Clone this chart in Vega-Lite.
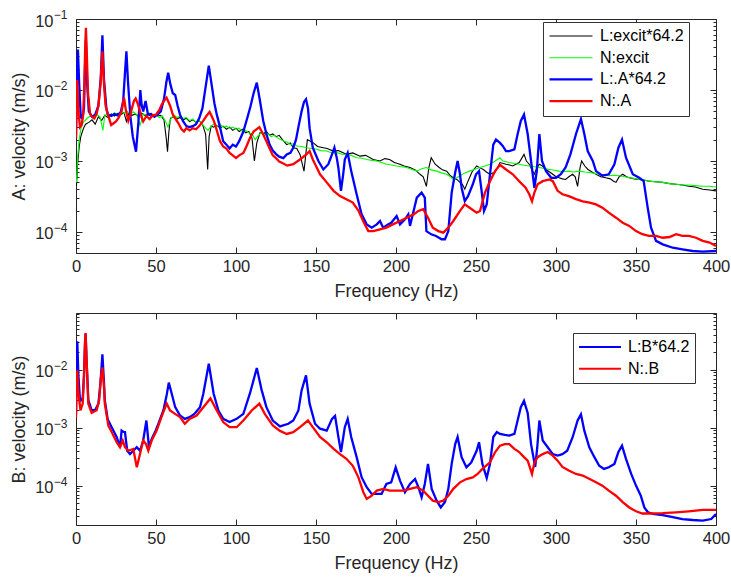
{
  "$schema": "https://vega.github.io/schema/vega-lite/v6.json",
  "background": "white",
  "padding": {"left": 10, "top": 8, "right": 5, "bottom": 5},
  "config": {
    "font": "Liberation Sans",
    "view": {"stroke": "#262626", "strokeWidth": 1},
    "axis": {"domain": false, "grid": false, "tickColor": "#262626", "tickWidth": 1, "labelColor": "#262626", "titleColor": "#262626", "labelFont": "Liberation Sans", "titleFont": "Liberation Sans", "labelFontSize": 16.5, "titleFontSize": 18, "titleFontWeight": "normal", "labelOverlap": false, "labelFlush": false},
    "legend": {"orient": "none", "title": null, "symbolType": "stroke", "strokeColor": "#333333", "fillColor": "white", "padding": 5, "labelFont": "Liberation Sans", "labelFontSize": 16, "labelColor": "#000000", "labelOffset": 6, "clipHeight": 18, "rowPadding": 3.7}
  },
  "datasets": {
    "A": [
      {"s":"L:excit*64.2","f":0.3,"v":0.00045},{"s":"L:excit*64.2","f":1,"v":0.0009},{"s":"L:excit*64.2","f":2,"v":0.0016},{"s":"L:excit*64.2","f":3,"v":0.0022},{"s":"L:excit*64.2","f":4,"v":0.0026},{"s":"L:excit*64.2","f":5,"v":0.003},{"s":"L:excit*64.2","f":6,"v":0.0033},{"s":"L:excit*64.2","f":8,"v":0.0035},{"s":"L:excit*64.2","f":10,"v":0.0038},{"s":"L:excit*64.2","f":12,"v":0.0033},{"s":"L:excit*64.2","f":14,"v":0.0042},{"s":"L:excit*64.2","f":16,"v":0.0037},{"s":"L:excit*64.2","f":18,"v":0.0044},{"s":"L:excit*64.2","f":20,"v":0.0041},{"s":"L:excit*64.2","f":22,"v":0.0046},{"s":"L:excit*64.2","f":24,"v":0.0043},{"s":"L:excit*64.2","f":26,"v":0.0047},{"s":"L:excit*64.2","f":28,"v":0.0045},{"s":"L:excit*64.2","f":30,"v":0.0048},{"s":"L:excit*64.2","f":31.5,"v":0.0036},{"s":"L:excit*64.2","f":33,"v":0.0047},{"s":"L:excit*64.2","f":35,"v":0.0044},{"s":"L:excit*64.2","f":37,"v":0.0046},{"s":"L:excit*64.2","f":39,"v":0.0043},{"s":"L:excit*64.2","f":41,"v":0.0047},{"s":"L:excit*64.2","f":43,"v":0.0044},{"s":"L:excit*64.2","f":45,"v":0.0046},{"s":"L:excit*64.2","f":47,"v":0.0042},{"s":"L:excit*64.2","f":49,"v":0.0045},{"s":"L:excit*64.2","f":51,"v":0.0043},{"s":"L:excit*64.2","f":53,"v":0.0044},{"s":"L:excit*64.2","f":55,"v":0.0038},{"s":"L:excit*64.2","f":56.5,"v":0.002},{"s":"L:excit*64.2","f":57.2,"v":0.00135},{"s":"L:excit*64.2","f":58,"v":0.0025},{"s":"L:excit*64.2","f":59,"v":0.004},{"s":"L:excit*64.2","f":61,"v":0.0042},{"s":"L:excit*64.2","f":63,"v":0.0039},{"s":"L:excit*64.2","f":65,"v":0.0041},{"s":"L:excit*64.2","f":67,"v":0.0038},{"s":"L:excit*64.2","f":69,"v":0.004},{"s":"L:excit*64.2","f":71,"v":0.0036},{"s":"L:excit*64.2","f":73,"v":0.0038},{"s":"L:excit*64.2","f":75,"v":0.0035},{"s":"L:excit*64.2","f":77,"v":0.0037},{"s":"L:excit*64.2","f":79,"v":0.0033},{"s":"L:excit*64.2","f":81,"v":0.0024},{"s":"L:excit*64.2","f":82.3,"v":0.00076},{"s":"L:excit*64.2","f":83.2,"v":0.0022},{"s":"L:excit*64.2","f":84.5,"v":0.0031},{"s":"L:excit*64.2","f":86,"v":0.003},{"s":"L:excit*64.2","f":88,"v":0.0032},{"s":"L:excit*64.2","f":90,"v":0.0029},{"s":"L:excit*64.2","f":92,"v":0.0031},{"s":"L:excit*64.2","f":94,"v":0.0028},{"s":"L:excit*64.2","f":96,"v":0.003},{"s":"L:excit*64.2","f":98,"v":0.0027},{"s":"L:excit*64.2","f":100,"v":0.0029},{"s":"L:excit*64.2","f":102,"v":0.0026},{"s":"L:excit*64.2","f":104,"v":0.0028},{"s":"L:excit*64.2","f":106,"v":0.0025},{"s":"L:excit*64.2","f":108,"v":0.0026},{"s":"L:excit*64.2","f":110,"v":0.0021},{"s":"L:excit*64.2","f":111.5,"v":0.001},{"s":"L:excit*64.2","f":113,"v":0.0018},{"s":"L:excit*64.2","f":115,"v":0.0025},{"s":"L:excit*64.2","f":117,"v":0.0024},{"s":"L:excit*64.2","f":119,"v":0.0026},{"s":"L:excit*64.2","f":121,"v":0.0023},{"s":"L:excit*64.2","f":123,"v":0.0024},{"s":"L:excit*64.2","f":125,"v":0.0022},{"s":"L:excit*64.2","f":127,"v":0.0023},{"s":"L:excit*64.2","f":129,"v":0.002},{"s":"L:excit*64.2","f":131.7,"v":0.0017},{"s":"L:excit*64.2","f":134,"v":0.0018},{"s":"L:excit*64.2","f":135.8,"v":0.00154},{"s":"L:excit*64.2","f":138,"v":0.0015},{"s":"L:excit*64.2","f":140,"v":0.00124},{"s":"L:excit*64.2","f":142.5,"v":0.00072},{"s":"L:excit*64.2","f":144.6,"v":0.002},{"s":"L:excit*64.2","f":146.5,"v":0.0019},{"s":"L:excit*64.2","f":148.3,"v":0.0018},{"s":"L:excit*64.2","f":151,"v":0.0016},{"s":"L:excit*64.2","f":154.6,"v":0.00154},{"s":"L:excit*64.2","f":157,"v":0.0015},{"s":"L:excit*64.2","f":160.8,"v":0.00138},{"s":"L:excit*64.2","f":164,"v":0.0014},{"s":"L:excit*64.2","f":169,"v":0.00124},{"s":"L:excit*64.2","f":173,"v":0.0013},{"s":"L:excit*64.2","f":177.5,"v":0.00117},{"s":"L:excit*64.2","f":181,"v":0.0012},{"s":"L:excit*64.2","f":185.8,"v":0.00105},{"s":"L:excit*64.2","f":190,"v":0.001},{"s":"L:excit*64.2","f":193,"v":0.00108},{"s":"L:excit*64.2","f":196,"v":0.00105},{"s":"L:excit*64.2","f":199,"v":0.00095},{"s":"L:excit*64.2","f":202.5,"v":0.0009},{"s":"L:excit*64.2","f":205,"v":0.00085},{"s":"L:excit*64.2","f":208.75,"v":0.00081},{"s":"L:excit*64.2","f":212,"v":0.00075},{"s":"L:excit*64.2","f":215,"v":0.00065},{"s":"L:excit*64.2","f":217,"v":0.0006},{"s":"L:excit*64.2","f":219,"v":0.00044},{"s":"L:excit*64.2","f":220.5,"v":0.0008},{"s":"L:excit*64.2","f":222,"v":0.00111},{"s":"L:excit*64.2","f":224.5,"v":0.0009},{"s":"L:excit*64.2","f":227,"v":0.00081},{"s":"L:excit*64.2","f":229,"v":0.00075},{"s":"L:excit*64.2","f":231.7,"v":0.00072},{"s":"L:excit*64.2","f":234,"v":0.00062},{"s":"L:excit*64.2","f":235.8,"v":0.00058},{"s":"L:excit*64.2","f":238,"v":0.00055},{"s":"L:excit*64.2","f":240,"v":0.0005},{"s":"L:excit*64.2","f":241.5,"v":0.00047},{"s":"L:excit*64.2","f":243,"v":0.0004},{"s":"L:excit*64.2","f":245,"v":0.00052},{"s":"L:excit*64.2","f":247.5,"v":0.0007},{"s":"L:excit*64.2","f":250.4,"v":0.00085},{"s":"L:excit*64.2","f":252.5,"v":0.0008},{"s":"L:excit*64.2","f":254.6,"v":0.00076},{"s":"L:excit*64.2","f":256.5,"v":0.0007},{"s":"L:excit*64.2","f":258.75,"v":0.00065},{"s":"L:excit*64.2","f":260.5,"v":0.00068},{"s":"L:excit*64.2","f":262,"v":0.0007},{"s":"L:excit*64.2","f":265,"v":0.00095},{"s":"L:excit*64.2","f":268.75,"v":0.0009},{"s":"L:excit*64.2","f":271,"v":0.00088},{"s":"L:excit*64.2","f":273,"v":0.00085},{"s":"L:excit*64.2","f":275,"v":0.0009},{"s":"L:excit*64.2","f":277,"v":0.00095},{"s":"L:excit*64.2","f":280,"v":0.00124},{"s":"L:excit*64.2","f":281.5,"v":0.001},{"s":"L:excit*64.2","f":283.3,"v":0.0009},{"s":"L:excit*64.2","f":285,"v":0.00075},{"s":"L:excit*64.2","f":286.5,"v":0.00065},{"s":"L:excit*64.2","f":288,"v":0.0008},{"s":"L:excit*64.2","f":289.6,"v":0.0009},{"s":"L:excit*64.2","f":291.5,"v":0.00085},{"s":"L:excit*64.2","f":293.75,"v":0.00076},{"s":"L:excit*64.2","f":296,"v":0.0007},{"s":"L:excit*64.2","f":298,"v":0.00065},{"s":"L:excit*64.2","f":300,"v":0.0006},{"s":"L:excit*64.2","f":302,"v":0.00058},{"s":"L:excit*64.2","f":304,"v":0.00056},{"s":"L:excit*64.2","f":306,"v":0.00055},{"s":"L:excit*64.2","f":308,"v":0.0006},{"s":"L:excit*64.2","f":310.4,"v":0.00065},{"s":"L:excit*64.2","f":312,"v":0.0006},{"s":"L:excit*64.2","f":313.5,"v":0.00044},{"s":"L:excit*64.2","f":315,"v":0.0008},{"s":"L:excit*64.2","f":316,"v":0.001},{"s":"L:excit*64.2","f":318,"v":0.00085},{"s":"L:excit*64.2","f":320,"v":0.00076},{"s":"L:excit*64.2","f":322.5,"v":0.0007},{"s":"L:excit*64.2","f":325,"v":0.00065},{"s":"L:excit*64.2","f":328,"v":0.0006},{"s":"L:excit*64.2","f":331,"v":0.00058},{"s":"L:excit*64.2","f":334,"v":0.00056},{"s":"L:excit*64.2","f":336,"v":0.00052},{"s":"L:excit*64.2","f":337.5,"v":0.0005},{"s":"L:excit*64.2","f":339.5,"v":0.0006},{"s":"L:excit*64.2","f":341.7,"v":0.00065},{"s":"L:excit*64.2","f":344,"v":0.0006},{"s":"L:excit*64.2","f":345.8,"v":0.00058},{"s":"L:excit*64.2","f":349,"v":0.00056},{"s":"L:excit*64.2","f":352,"v":0.00055},{"s":"L:excit*64.2","f":355,"v":0.00054},{"s":"L:excit*64.2","f":358,"v":0.00052},{"s":"L:excit*64.2","f":362,"v":0.00051},{"s":"L:excit*64.2","f":366.7,"v":0.0005},{"s":"L:excit*64.2","f":371,"v":0.00048},{"s":"L:excit*64.2","f":375,"v":0.00047},{"s":"L:excit*64.2","f":379,"v":0.00046},{"s":"L:excit*64.2","f":383,"v":0.00044},{"s":"L:excit*64.2","f":387,"v":0.00043},{"s":"L:excit*64.2","f":391.7,"v":0.0004},{"s":"L:excit*64.2","f":396,"v":0.00039},{"s":"L:excit*64.2","f":400,"v":0.00038},
      {"s":"N:excit","f":0.3,"v":0.0005},{"s":"N:excit","f":1,"v":0.0011},{"s":"N:excit","f":2,"v":0.002},{"s":"N:excit","f":3,"v":0.0028},{"s":"N:excit","f":4,"v":0.0033},{"s":"N:excit","f":5,"v":0.0036},{"s":"N:excit","f":7,"v":0.004},{"s":"N:excit","f":9,"v":0.0043},{"s":"N:excit","f":11,"v":0.0039},{"s":"N:excit","f":13,"v":0.0045},{"s":"N:excit","f":15,"v":0.0042},{"s":"N:excit","f":16.8,"v":0.0027},{"s":"N:excit","f":18,"v":0.0044},{"s":"N:excit","f":20,"v":0.0046},{"s":"N:excit","f":22,"v":0.0043},{"s":"N:excit","f":24,"v":0.0048},{"s":"N:excit","f":26,"v":0.0045},{"s":"N:excit","f":28,"v":0.005},{"s":"N:excit","f":30,"v":0.0047},{"s":"N:excit","f":32,"v":0.005},{"s":"N:excit","f":34,"v":0.0046},{"s":"N:excit","f":36,"v":0.0049},{"s":"N:excit","f":38,"v":0.0045},{"s":"N:excit","f":40,"v":0.0032},{"s":"N:excit","f":41,"v":0.0037},{"s":"N:excit","f":42,"v":0.0046},{"s":"N:excit","f":44,"v":0.0044},{"s":"N:excit","f":46,"v":0.0047},{"s":"N:excit","f":48,"v":0.0043},{"s":"N:excit","f":50,"v":0.0045},{"s":"N:excit","f":52,"v":0.0041},{"s":"N:excit","f":54,"v":0.0043},{"s":"N:excit","f":56,"v":0.0036},{"s":"N:excit","f":57.5,"v":0.003},{"s":"N:excit","f":59,"v":0.0038},{"s":"N:excit","f":61,"v":0.0045},{"s":"N:excit","f":63,"v":0.0041},{"s":"N:excit","f":65,"v":0.0043},{"s":"N:excit","f":67,"v":0.004},{"s":"N:excit","f":69,"v":0.0041},{"s":"N:excit","f":71,"v":0.0037},{"s":"N:excit","f":73,"v":0.0039},{"s":"N:excit","f":75,"v":0.0035},{"s":"N:excit","f":77,"v":0.0037},{"s":"N:excit","f":79,"v":0.0033},{"s":"N:excit","f":81,"v":0.0029},{"s":"N:excit","f":82.5,"v":0.0027},{"s":"N:excit","f":84,"v":0.003},{"s":"N:excit","f":86,"v":0.0033},{"s":"N:excit","f":88,"v":0.0031},{"s":"N:excit","f":90,"v":0.0033},{"s":"N:excit","f":92,"v":0.003},{"s":"N:excit","f":94,"v":0.0031},{"s":"N:excit","f":96,"v":0.0029},{"s":"N:excit","f":98,"v":0.003},{"s":"N:excit","f":100,"v":0.0028},{"s":"N:excit","f":102,"v":0.0029},{"s":"N:excit","f":104,"v":0.0026},{"s":"N:excit","f":106,"v":0.0027},{"s":"N:excit","f":108,"v":0.0025},{"s":"N:excit","f":110,"v":0.0024},{"s":"N:excit","f":112,"v":0.002},{"s":"N:excit","f":114,"v":0.0023},{"s":"N:excit","f":116,"v":0.0025},{"s":"N:excit","f":118,"v":0.0023},{"s":"N:excit","f":120,"v":0.0024},{"s":"N:excit","f":122,"v":0.0022},{"s":"N:excit","f":124,"v":0.0023},{"s":"N:excit","f":126,"v":0.0021},{"s":"N:excit","f":128,"v":0.002},{"s":"N:excit","f":130,"v":0.0019},{"s":"N:excit","f":132,"v":0.00185},{"s":"N:excit","f":134,"v":0.0017},{"s":"N:excit","f":136,"v":0.00175},{"s":"N:excit","f":138,"v":0.00163},{"s":"N:excit","f":141,"v":0.0016},{"s":"N:excit","f":144,"v":0.00154},{"s":"N:excit","f":147,"v":0.0015},{"s":"N:excit","f":150.4,"v":0.00146},{"s":"N:excit","f":153,"v":0.0014},{"s":"N:excit","f":156.7,"v":0.00138},{"s":"N:excit","f":160,"v":0.0013},{"s":"N:excit","f":162.9,"v":0.00131},{"s":"N:excit","f":166,"v":0.00125},{"s":"N:excit","f":169,"v":0.00124},{"s":"N:excit","f":172,"v":0.0012},{"s":"N:excit","f":175.4,"v":0.00111},{"s":"N:excit","f":178,"v":0.0011},{"s":"N:excit","f":181.7,"v":0.00105},{"s":"N:excit","f":185,"v":0.00102},{"s":"N:excit","f":188,"v":0.001},{"s":"N:excit","f":191,"v":0.00095},{"s":"N:excit","f":194,"v":0.0009},{"s":"N:excit","f":197,"v":0.00088},{"s":"N:excit","f":200.4,"v":0.00085},{"s":"N:excit","f":203.5,"v":0.00083},{"s":"N:excit","f":206.7,"v":0.00081},{"s":"N:excit","f":210,"v":0.00076},{"s":"N:excit","f":213,"v":0.00072},{"s":"N:excit","f":216,"v":0.00078},{"s":"N:excit","f":219,"v":0.00081},{"s":"N:excit","f":222,"v":0.00075},{"s":"N:excit","f":225.4,"v":0.00072},{"s":"N:excit","f":228.5,"v":0.00068},{"s":"N:excit","f":231.7,"v":0.00065},{"s":"N:excit","f":234,"v":0.0006},{"s":"N:excit","f":235.8,"v":0.00055},{"s":"N:excit","f":238,"v":0.00058},{"s":"N:excit","f":240,"v":0.00062},{"s":"N:excit","f":243,"v":0.00068},{"s":"N:excit","f":246,"v":0.00072},{"s":"N:excit","f":249,"v":0.00076},{"s":"N:excit","f":252.5,"v":0.00081},{"s":"N:excit","f":255.5,"v":0.00085},{"s":"N:excit","f":258.75,"v":0.0009},{"s":"N:excit","f":262,"v":0.001},{"s":"N:excit","f":265,"v":0.00111},{"s":"N:excit","f":266.7,"v":0.001},{"s":"N:excit","f":270.8,"v":0.00095},{"s":"N:excit","f":274,"v":0.00092},{"s":"N:excit","f":277,"v":0.0009},{"s":"N:excit","f":280,"v":0.00087},{"s":"N:excit","f":283.3,"v":0.00085},{"s":"N:excit","f":286.5,"v":0.00083},{"s":"N:excit","f":289.6,"v":0.00081},{"s":"N:excit","f":293,"v":0.00078},{"s":"N:excit","f":296,"v":0.00076},{"s":"N:excit","f":299,"v":0.00074},{"s":"N:excit","f":302,"v":0.00072},{"s":"N:excit","f":305,"v":0.00071},{"s":"N:excit","f":308,"v":0.00072},{"s":"N:excit","f":311,"v":0.0007},{"s":"N:excit","f":314.6,"v":0.00072},{"s":"N:excit","f":318,"v":0.0007},{"s":"N:excit","f":321,"v":0.00069},{"s":"N:excit","f":324,"v":0.00067},{"s":"N:excit","f":327,"v":0.00065},{"s":"N:excit","f":330,"v":0.00064},{"s":"N:excit","f":333,"v":0.00062},{"s":"N:excit","f":336,"v":0.00063},{"s":"N:excit","f":339.6,"v":0.00062},{"s":"N:excit","f":343,"v":0.0006},{"s":"N:excit","f":345.8,"v":0.00058},{"s":"N:excit","f":349,"v":0.00057},{"s":"N:excit","f":352,"v":0.00055},{"s":"N:excit","f":355,"v":0.00054},{"s":"N:excit","f":358,"v":0.00052},{"s":"N:excit","f":362,"v":0.00051},{"s":"N:excit","f":366.7,"v":0.0005},{"s":"N:excit","f":371,"v":0.00048},{"s":"N:excit","f":375,"v":0.00047},{"s":"N:excit","f":379,"v":0.00046},{"s":"N:excit","f":383,"v":0.00046},{"s":"N:excit","f":387,"v":0.00045},{"s":"N:excit","f":391.7,"v":0.00044},{"s":"N:excit","f":396,"v":0.00044},{"s":"N:excit","f":400,"v":0.00043},
      {"s":"L:.A*64.2","f":0,"v":0.0021},{"s":"L:.A*64.2","f":0.6,"v":0.02},{"s":"L:.A*64.2","f":1.2,"v":0.037},{"s":"L:.A*64.2","f":2,"v":0.012},{"s":"L:.A*64.2","f":3,"v":0.0041},{"s":"L:.A*64.2","f":4,"v":0.004},{"s":"L:.A*64.2","f":5,"v":0.0055},{"s":"L:.A*64.2","f":5.6,"v":0.02},{"s":"L:.A*64.2","f":6.2,"v":0.05},{"s":"L:.A*64.2","f":7,"v":0.012},{"s":"L:.A*64.2","f":8,"v":0.005},{"s":"L:.A*64.2","f":10,"v":0.0042},{"s":"L:.A*64.2","f":12,"v":0.0045},{"s":"L:.A*64.2","f":14,"v":0.006},{"s":"L:.A*64.2","f":15.5,"v":0.015},{"s":"L:.A*64.2","f":16.5,"v":0.059},{"s":"L:.A*64.2","f":17.5,"v":0.014},{"s":"L:.A*64.2","f":19,"v":0.0055},{"s":"L:.A*64.2","f":20,"v":0.0045},{"s":"L:.A*64.2","f":22,"v":0.0043},{"s":"L:.A*64.2","f":24,"v":0.0046},{"s":"L:.A*64.2","f":26,"v":0.0044},{"s":"L:.A*64.2","f":28,"v":0.0049},{"s":"L:.A*64.2","f":29.5,"v":0.007},{"s":"L:.A*64.2","f":30.5,"v":0.016},{"s":"L:.A*64.2","f":31.5,"v":0.035},{"s":"L:.A*64.2","f":32.5,"v":0.013},{"s":"L:.A*64.2","f":34,"v":0.0042},{"s":"L:.A*64.2","f":35.5,"v":0.0022},{"s":"L:.A*64.2","f":37.5,"v":0.00135},{"s":"L:.A*64.2","f":39,"v":0.0035},{"s":"L:.A*64.2","f":40.2,"v":0.01},{"s":"L:.A*64.2","f":41,"v":0.0062},{"s":"L:.A*64.2","f":42,"v":0.005},{"s":"L:.A*64.2","f":43.5,"v":0.007},{"s":"L:.A*64.2","f":45,"v":0.0045},{"s":"L:.A*64.2","f":47,"v":0.0046},{"s":"L:.A*64.2","f":49,"v":0.0042},{"s":"L:.A*64.2","f":51,"v":0.0045},{"s":"L:.A*64.2","f":53,"v":0.005},{"s":"L:.A*64.2","f":55,"v":0.0075},{"s":"L:.A*64.2","f":56.5,"v":0.013},{"s":"L:.A*64.2","f":57.6,"v":0.0175},{"s":"L:.A*64.2","f":59,"v":0.012},{"s":"L:.A*64.2","f":60.5,"v":0.009},{"s":"L:.A*64.2","f":62,"v":0.0085},{"s":"L:.A*64.2","f":63.5,"v":0.006},{"s":"L:.A*64.2","f":65,"v":0.0045},{"s":"L:.A*64.2","f":67,"v":0.0036},{"s":"L:.A*64.2","f":69,"v":0.0031},{"s":"L:.A*64.2","f":71,"v":0.003},{"s":"L:.A*64.2","f":73,"v":0.0031},{"s":"L:.A*64.2","f":75,"v":0.0033},{"s":"L:.A*64.2","f":77,"v":0.004},{"s":"L:.A*64.2","f":79,"v":0.0055},{"s":"L:.A*64.2","f":81,"v":0.011},{"s":"L:.A*64.2","f":83,"v":0.022},{"s":"L:.A*64.2","f":85,"v":0.011},{"s":"L:.A*64.2","f":86.5,"v":0.0065},{"s":"L:.A*64.2","f":88,"v":0.0045},{"s":"L:.A*64.2","f":90,"v":0.003},{"s":"L:.A*64.2","f":92,"v":0.0019},{"s":"L:.A*64.2","f":94,"v":0.0017},{"s":"L:.A*64.2","f":96,"v":0.0015},{"s":"L:.A*64.2","f":98,"v":0.0017},{"s":"L:.A*64.2","f":100,"v":0.0016},{"s":"L:.A*64.2","f":102,"v":0.0019},{"s":"L:.A*64.2","f":104.6,"v":0.0026},{"s":"L:.A*64.2","f":107,"v":0.004},{"s":"L:.A*64.2","f":109,"v":0.0058},{"s":"L:.A*64.2","f":111,"v":0.009},{"s":"L:.A*64.2","f":113,"v":0.0127},{"s":"L:.A*64.2","f":115,"v":0.007},{"s":"L:.A*64.2","f":117,"v":0.0037},{"s":"L:.A*64.2","f":119,"v":0.0024},{"s":"L:.A*64.2","f":121,"v":0.0017},{"s":"L:.A*64.2","f":123,"v":0.0014},{"s":"L:.A*64.2","f":125,"v":0.00125},{"s":"L:.A*64.2","f":127,"v":0.00115},{"s":"L:.A*64.2","f":129.6,"v":0.0011},{"s":"L:.A*64.2","f":131.7,"v":0.00124},{"s":"L:.A*64.2","f":134,"v":0.0013},{"s":"L:.A*64.2","f":135.8,"v":0.00154},{"s":"L:.A*64.2","f":137.5,"v":0.002},{"s":"L:.A*64.2","f":139,"v":0.003},{"s":"L:.A*64.2","f":141,"v":0.005},{"s":"L:.A*64.2","f":142.5,"v":0.0068},{"s":"L:.A*64.2","f":143.75,"v":0.0074},{"s":"L:.A*64.2","f":145,"v":0.0055},{"s":"L:.A*64.2","f":146,"v":0.0029},{"s":"L:.A*64.2","f":148,"v":0.00154},{"s":"L:.A*64.2","f":151.5,"v":0.001},{"s":"L:.A*64.2","f":154.6,"v":0.00076},{"s":"L:.A*64.2","f":157.7,"v":0.0009},{"s":"L:.A*64.2","f":160,"v":0.00124},{"s":"L:.A*64.2","f":161.5,"v":0.00154},{"s":"L:.A*64.2","f":163,"v":0.0011},{"s":"L:.A*64.2","f":164,"v":0.0008},{"s":"L:.A*64.2","f":165.6,"v":0.00038},{"s":"L:.A*64.2","f":167,"v":0.00065},{"s":"L:.A*64.2","f":168,"v":0.00105},{"s":"L:.A*64.2","f":169.8,"v":0.0013},{"s":"L:.A*64.2","f":172,"v":0.00072},{"s":"L:.A*64.2","f":175.4,"v":0.00034},{"s":"L:.A*64.2","f":178.5,"v":0.000177},{"s":"L:.A*64.2","f":181.7,"v":0.000128},{"s":"L:.A*64.2","f":184.8,"v":0.000115},{"s":"L:.A*64.2","f":188,"v":0.000128},{"s":"L:.A*64.2","f":190,"v":0.000143},{"s":"L:.A*64.2","f":192,"v":0.000115},{"s":"L:.A*64.2","f":195,"v":0.000128},{"s":"L:.A*64.2","f":197,"v":0.000135},{"s":"L:.A*64.2","f":200.4,"v":0.000168},{"s":"L:.A*64.2","f":202.5,"v":0.000128},{"s":"L:.A*64.2","f":205.6,"v":0.000151},{"s":"L:.A*64.2","f":207.7,"v":0.000177},{"s":"L:.A*64.2","f":208.75,"v":0.000122},{"s":"L:.A*64.2","f":211,"v":0.000198},{"s":"L:.A*64.2","f":213,"v":0.000305},{"s":"L:.A*64.2","f":216,"v":0.000358},{"s":"L:.A*64.2","f":218,"v":0.000305},{"s":"L:.A*64.2","f":219,"v":0.000103},{"s":"L:.A*64.2","f":222,"v":0.0000927},{"s":"L:.A*64.2","f":225,"v":0.000088},{"s":"L:.A*64.2","f":228.5,"v":0.000079},{"s":"L:.A*64.2","f":230.6,"v":0.000079},{"s":"L:.A*64.2","f":232.7,"v":0.000103},{"s":"L:.A*64.2","f":234.8,"v":0.000358},{"s":"L:.A*64.2","f":237,"v":0.00069},{"s":"L:.A*64.2","f":238.5,"v":0.001},{"s":"L:.A*64.2","f":240,"v":0.00065},{"s":"L:.A*64.2","f":241,"v":0.00042},{"s":"L:.A*64.2","f":243,"v":0.000273},{"s":"L:.A*64.2","f":245,"v":0.00032},{"s":"L:.A*64.2","f":248,"v":0.00047},{"s":"L:.A*64.2","f":250,"v":0.00065},{"s":"L:.A*64.2","f":251.9,"v":0.00072},{"s":"L:.A*64.2","f":253.5,"v":0.00038},{"s":"L:.A*64.2","f":255,"v":0.000198},{"s":"L:.A*64.2","f":256.7,"v":0.000245},{"s":"L:.A*64.2","f":258.75,"v":0.00065},{"s":"L:.A*64.2","f":260.8,"v":0.0017},{"s":"L:.A*64.2","f":262.5,"v":0.002},{"s":"L:.A*64.2","f":265,"v":0.0018},{"s":"L:.A*64.2","f":266.7,"v":0.00163},{"s":"L:.A*64.2","f":268.75,"v":0.00138},{"s":"L:.A*64.2","f":270.8,"v":0.00138},{"s":"L:.A*64.2","f":274,"v":0.00146},{"s":"L:.A*64.2","f":276,"v":0.00238},{"s":"L:.A*64.2","f":278,"v":0.00366},{"s":"L:.A*64.2","f":280,"v":0.0045},{"s":"L:.A*64.2","f":282.3,"v":0.0024},{"s":"L:.A*64.2","f":284.4,"v":0.001},{"s":"L:.A*64.2","f":286.5,"v":0.00042},{"s":"L:.A*64.2","f":288,"v":0.00072},{"s":"L:.A*64.2","f":289.6,"v":0.0024},{"s":"L:.A*64.2","f":291.25,"v":0.001},{"s":"L:.A*64.2","f":293.75,"v":0.00072},{"s":"L:.A*64.2","f":297,"v":0.00058},{"s":"L:.A*64.2","f":300,"v":0.00058},{"s":"L:.A*64.2","f":303,"v":0.00065},{"s":"L:.A*64.2","f":306,"v":0.00081},{"s":"L:.A*64.2","f":309,"v":0.00124},{"s":"L:.A*64.2","f":312.5,"v":0.0024},{"s":"L:.A*64.2","f":315.6,"v":0.0039},{"s":"L:.A*64.2","f":317.7,"v":0.0024},{"s":"L:.A*64.2","f":319.8,"v":0.00138},{"s":"L:.A*64.2","f":323,"v":0.001},{"s":"L:.A*64.2","f":325,"v":0.00072},{"s":"L:.A*64.2","f":329,"v":0.00062},{"s":"L:.A*64.2","f":333,"v":0.00065},{"s":"L:.A*64.2","f":336.5,"v":0.0009},{"s":"L:.A*64.2","f":339,"v":0.00154},{"s":"L:.A*64.2","f":341.25,"v":0.002},{"s":"L:.A*64.2","f":343.75,"v":0.00111},{"s":"L:.A*64.2","f":348,"v":0.00065},{"s":"L:.A*64.2","f":352,"v":0.00058},{"s":"L:.A*64.2","f":354.8,"v":0.00052},{"s":"L:.A*64.2","f":357.3,"v":0.00022},{"s":"L:.A*64.2","f":359.4,"v":0.000115},{"s":"L:.A*64.2","f":362.5,"v":0.000075},{"s":"L:.A*64.2","f":366.7,"v":0.000067},{"s":"L:.A*64.2","f":373,"v":0.00006},{"s":"L:.A*64.2","f":379,"v":0.000057},{"s":"L:.A*64.2","f":385.4,"v":0.000054},{"s":"L:.A*64.2","f":391.7,"v":0.000053},{"s":"L:.A*64.2","f":400,"v":0.000054},
      {"s":"N:.A","f":0,"v":0.0021},{"s":"N:.A","f":0.4,"v":0.008},{"s":"N:.A","f":0.8,"v":0.0138},{"s":"N:.A","f":1.5,"v":0.005},{"s":"N:.A","f":2.5,"v":0.003},{"s":"N:.A","f":3.5,"v":0.0032},{"s":"N:.A","f":4.5,"v":0.0045},{"s":"N:.A","f":5.2,"v":0.012},{"s":"N:.A","f":5.8,"v":0.045},{"s":"N:.A","f":6.2,"v":0.075},{"s":"N:.A","f":6.8,"v":0.03},{"s":"N:.A","f":7.5,"v":0.009},{"s":"N:.A","f":8.8,"v":0.0046},{"s":"N:.A","f":10,"v":0.0042},{"s":"N:.A","f":11.5,"v":0.004},{"s":"N:.A","f":12.9,"v":0.0046},{"s":"N:.A","f":14,"v":0.006},{"s":"N:.A","f":15.3,"v":0.012},{"s":"N:.A","f":16.5,"v":0.035},{"s":"N:.A","f":17.5,"v":0.012},{"s":"N:.A","f":18.5,"v":0.006},{"s":"N:.A","f":19.6,"v":0.0048},{"s":"N:.A","f":21,"v":0.0038},{"s":"N:.A","f":22,"v":0.0032},{"s":"N:.A","f":23.5,"v":0.0034},{"s":"N:.A","f":25,"v":0.0036},{"s":"N:.A","f":26.5,"v":0.004},{"s":"N:.A","f":28.5,"v":0.005},{"s":"N:.A","f":30,"v":0.0078},{"s":"N:.A","f":31,"v":0.0055},{"s":"N:.A","f":32.7,"v":0.0037},{"s":"N:.A","f":34,"v":0.0045},{"s":"N:.A","f":35,"v":0.0056},{"s":"N:.A","f":36.2,"v":0.007},{"s":"N:.A","f":37.3,"v":0.0076},{"s":"N:.A","f":38.5,"v":0.0065},{"s":"N:.A","f":40,"v":0.005},{"s":"N:.A","f":41,"v":0.0041},{"s":"N:.A","f":42,"v":0.0036},{"s":"N:.A","f":44,"v":0.0043},{"s":"N:.A","f":46,"v":0.0039},{"s":"N:.A","f":48,"v":0.0044},{"s":"N:.A","f":50,"v":0.0045},{"s":"N:.A","f":52,"v":0.0052},{"s":"N:.A","f":53.5,"v":0.0062},{"s":"N:.A","f":55,"v":0.007},{"s":"N:.A","f":56.6,"v":0.0078},{"s":"N:.A","f":58.8,"v":0.006},{"s":"N:.A","f":60.5,"v":0.0045},{"s":"N:.A","f":62,"v":0.004},{"s":"N:.A","f":64,"v":0.0034},{"s":"N:.A","f":66,"v":0.0028},{"s":"N:.A","f":67.5,"v":0.0026},{"s":"N:.A","f":69,"v":0.0029},{"s":"N:.A","f":71,"v":0.0027},{"s":"N:.A","f":73,"v":0.0029},{"s":"N:.A","f":75,"v":0.0028},{"s":"N:.A","f":77,"v":0.0031},{"s":"N:.A","f":79.6,"v":0.0037},{"s":"N:.A","f":81.5,"v":0.0043},{"s":"N:.A","f":83.5,"v":0.0049},{"s":"N:.A","f":85,"v":0.0042},{"s":"N:.A","f":86.5,"v":0.0035},{"s":"N:.A","f":88,"v":0.0027},{"s":"N:.A","f":90,"v":0.0019},{"s":"N:.A","f":92,"v":0.0016},{"s":"N:.A","f":94,"v":0.0015},{"s":"N:.A","f":96,"v":0.0013},{"s":"N:.A","f":98,"v":0.0012},{"s":"N:.A","f":100,"v":0.0011},{"s":"N:.A","f":102,"v":0.0012},{"s":"N:.A","f":104.6,"v":0.0013},{"s":"N:.A","f":106.5,"v":0.0016},{"s":"N:.A","f":108.7,"v":0.0021},{"s":"N:.A","f":111,"v":0.0026},{"s":"N:.A","f":114.6,"v":0.003},{"s":"N:.A","f":116.5,"v":0.0025},{"s":"N:.A","f":119,"v":0.0019},{"s":"N:.A","f":121,"v":0.0015},{"s":"N:.A","f":123,"v":0.0012},{"s":"N:.A","f":125,"v":0.0011},{"s":"N:.A","f":127,"v":0.00098},{"s":"N:.A","f":129.6,"v":0.00092},{"s":"N:.A","f":132,"v":0.00086},{"s":"N:.A","f":135.8,"v":0.0009},{"s":"N:.A","f":140,"v":0.00105},{"s":"N:.A","f":144,"v":0.00124},{"s":"N:.A","f":146,"v":0.00138},{"s":"N:.A","f":148,"v":0.00105},{"s":"N:.A","f":150,"v":0.00085},{"s":"N:.A","f":152.5,"v":0.00065},{"s":"N:.A","f":156.7,"v":0.0005},{"s":"N:.A","f":161,"v":0.00038},{"s":"N:.A","f":165,"v":0.00032},{"s":"N:.A","f":169,"v":0.00029},{"s":"N:.A","f":173,"v":0.00026},{"s":"N:.A","f":176.5,"v":0.0002},{"s":"N:.A","f":179.6,"v":0.00014},{"s":"N:.A","f":182.7,"v":0.000103},{"s":"N:.A","f":185.8,"v":0.000103},{"s":"N:.A","f":190,"v":0.000109},{"s":"N:.A","f":194,"v":0.000115},{"s":"N:.A","f":198,"v":0.000128},{"s":"N:.A","f":202.5,"v":0.000143},{"s":"N:.A","f":206.7,"v":0.000159},{"s":"N:.A","f":211,"v":0.000177},{"s":"N:.A","f":214,"v":0.000198},{"s":"N:.A","f":217,"v":0.000209},{"s":"N:.A","f":220,"v":0.000159},{"s":"N:.A","f":223,"v":0.000115},{"s":"N:.A","f":226.5,"v":0.000103},{"s":"N:.A","f":229.6,"v":0.000098},{"s":"N:.A","f":232.7,"v":0.000115},{"s":"N:.A","f":235.8,"v":0.000143},{"s":"N:.A","f":240,"v":0.000198},{"s":"N:.A","f":243,"v":0.000245},{"s":"N:.A","f":246,"v":0.00022},{"s":"N:.A","f":250.4,"v":0.000187},{"s":"N:.A","f":252.5,"v":0.000198},{"s":"N:.A","f":255.6,"v":0.000358},{"s":"N:.A","f":258.75,"v":0.00052},{"s":"N:.A","f":261.9,"v":0.00072},{"s":"N:.A","f":265,"v":0.00088},{"s":"N:.A","f":268.75,"v":0.00076},{"s":"N:.A","f":273,"v":0.00065},{"s":"N:.A","f":277,"v":0.00052},{"s":"N:.A","f":281,"v":0.00042},{"s":"N:.A","f":283.3,"v":0.00034},{"s":"N:.A","f":285,"v":0.00027},{"s":"N:.A","f":286.5,"v":0.00036},{"s":"N:.A","f":288.5,"v":0.00047},{"s":"N:.A","f":291.7,"v":0.00052},{"s":"N:.A","f":296,"v":0.00055},{"s":"N:.A","f":298,"v":0.00052},{"s":"N:.A","f":301,"v":0.00038},{"s":"N:.A","f":304,"v":0.00034},{"s":"N:.A","f":308,"v":0.00032},{"s":"N:.A","f":312.5,"v":0.00029},{"s":"N:.A","f":316.7,"v":0.00027},{"s":"N:.A","f":321,"v":0.00026},{"s":"N:.A","f":325,"v":0.000245},{"s":"N:.A","f":329,"v":0.00022},{"s":"N:.A","f":333,"v":0.000187},{"s":"N:.A","f":337.5,"v":0.000159},{"s":"N:.A","f":341.7,"v":0.000135},{"s":"N:.A","f":345.8,"v":0.000122},{"s":"N:.A","f":350,"v":0.000103},{"s":"N:.A","f":354,"v":0.000093},{"s":"N:.A","f":358,"v":0.000088},{"s":"N:.A","f":362.5,"v":0.000088},{"s":"N:.A","f":366.7,"v":0.000083},{"s":"N:.A","f":371,"v":0.000085},{"s":"N:.A","f":375,"v":0.000093},{"s":"N:.A","f":379,"v":0.000088},{"s":"N:.A","f":383,"v":0.000088},{"s":"N:.A","f":387.5,"v":0.000083},{"s":"N:.A","f":391.7,"v":0.000075},{"s":"N:.A","f":396,"v":0.000071},{"s":"N:.A","f":400,"v":0.0000635}
    ],
    "B": [
      {"s":"L:B*64.2","f":0,"v":0.0017},{"s":"L:B*64.2","f":0.4,"v":0.012},{"s":"L:B*64.2","f":0.8,"v":0.031},{"s":"L:B*64.2","f":1.5,"v":0.008},{"s":"L:B*64.2","f":2.5,"v":0.0029},{"s":"L:B*64.2","f":3.5,"v":0.003},{"s":"L:B*64.2","f":4.2,"v":0.0033},{"s":"L:B*64.2","f":5,"v":0.008},{"s":"L:B*64.2","f":5.6,"v":0.025},{"s":"L:B*64.2","f":6,"v":0.042},{"s":"L:B*64.2","f":6.6,"v":0.015},{"s":"L:B*64.2","f":7.7,"v":0.003},{"s":"L:B*64.2","f":9.8,"v":0.002},{"s":"L:B*64.2","f":11.9,"v":0.002},{"s":"L:B*64.2","f":14,"v":0.0026},{"s":"L:B*64.2","f":15.3,"v":0.006},{"s":"L:B*64.2","f":16.5,"v":0.0184},{"s":"L:B*64.2","f":17.5,"v":0.006},{"s":"L:B*64.2","f":18,"v":0.003},{"s":"L:B*64.2","f":19.8,"v":0.0014},{"s":"L:B*64.2","f":22.3,"v":0.00102},{"s":"L:B*64.2","f":25.4,"v":0.00069},{"s":"L:B*64.2","f":27.5,"v":0.00046},{"s":"L:B*64.2","f":28.5,"v":0.00089},{"s":"L:B*64.2","f":29.5,"v":0.00085},{"s":"L:B*64.2","f":30.6,"v":0.00084},{"s":"L:B*64.2","f":32,"v":0.0004},{"s":"L:B*64.2","f":33.75,"v":0.00035},{"s":"L:B*64.2","f":35.8,"v":0.0004},{"s":"L:B*64.2","f":38,"v":0.00046},{"s":"L:B*64.2","f":40,"v":0.0004},{"s":"L:B*64.2","f":42,"v":0.0006},{"s":"L:B*64.2","f":44,"v":0.00133},{"s":"L:B*64.2","f":45.6,"v":0.00046},{"s":"L:B*64.2","f":47.3,"v":0.00064},{"s":"L:B*64.2","f":49.4,"v":0.00084},{"s":"L:B*64.2","f":51.5,"v":0.00117},{"s":"L:B*64.2","f":54.6,"v":0.00198},{"s":"L:B*64.2","f":56.7,"v":0.0037},{"s":"L:B*64.2","f":58,"v":0.006},{"s":"L:B*64.2","f":59.8,"v":0.0039},{"s":"L:B*64.2","f":62,"v":0.00226},{"s":"L:B*64.2","f":65,"v":0.00162},{"s":"L:B*64.2","f":68,"v":0.00142},{"s":"L:B*64.2","f":71,"v":0.00152},{"s":"L:B*64.2","f":74,"v":0.00173},{"s":"L:B*64.2","f":77.5,"v":0.00226},{"s":"L:B*64.2","f":79.6,"v":0.0039},{"s":"L:B*64.2","f":83,"v":0.0127},{"s":"L:B*64.2","f":86,"v":0.0039},{"s":"L:B*64.2","f":89,"v":0.00198},{"s":"L:B*64.2","f":92,"v":0.00142},{"s":"L:B*64.2","f":96,"v":0.00125},{"s":"L:B*64.2","f":100.4,"v":0.00142},{"s":"L:B*64.2","f":104.6,"v":0.00173},{"s":"L:B*64.2","f":108.7,"v":0.0039},{"s":"L:B*64.2","f":113,"v":0.0107},{"s":"L:B*64.2","f":116,"v":0.0045},{"s":"L:B*64.2","f":119,"v":0.00226},{"s":"L:B*64.2","f":123,"v":0.00133},{"s":"L:B*64.2","f":127.5,"v":0.00105},{"s":"L:B*64.2","f":132.7,"v":0.00117},{"s":"L:B*64.2","f":135.8,"v":0.00133},{"s":"L:B*64.2","f":139,"v":0.00198},{"s":"L:B*64.2","f":141,"v":0.0044},{"s":"L:B*64.2","f":143.75,"v":0.008},{"s":"L:B*64.2","f":146,"v":0.0026},{"s":"L:B*64.2","f":149.4,"v":0.00117},{"s":"L:B*64.2","f":152.5,"v":0.00096},{"s":"L:B*64.2","f":156.7,"v":0.00089},{"s":"L:B*64.2","f":160,"v":0.00142},{"s":"L:B*64.2","f":161.9,"v":0.0016},{"s":"L:B*64.2","f":164,"v":0.00069},{"s":"L:B*64.2","f":165.6,"v":0.00038},{"s":"L:B*64.2","f":168,"v":0.00102},{"s":"L:B*64.2","f":169.8,"v":0.00142},{"s":"L:B*64.2","f":172,"v":0.00069},{"s":"L:B*64.2","f":175.4,"v":0.00031},{"s":"L:B*64.2","f":178.5,"v":0.00014},{"s":"L:B*64.2","f":181.7,"v":0.000094},{"s":"L:B*64.2","f":184.8,"v":0.000072},{"s":"L:B*64.2","f":188,"v":0.000072},{"s":"L:B*64.2","f":191,"v":0.000072},{"s":"L:B*64.2","f":194,"v":0.000107},{"s":"L:B*64.2","f":197,"v":0.000114},{"s":"L:B*64.2","f":199.8,"v":0.000207},{"s":"L:B*64.2","f":202.5,"v":0.000122},{"s":"L:B*64.2","f":205.6,"v":0.000077},{"s":"L:B*64.2","f":208.75,"v":0.000107},{"s":"L:B*64.2","f":211.9,"v":0.00013},{"s":"L:B*64.2","f":214,"v":0.000094},{"s":"L:B*64.2","f":216,"v":0.000063},{"s":"L:B*64.2","f":218,"v":0.000107},{"s":"L:B*64.2","f":220,"v":0.000237},{"s":"L:B*64.2","f":222.3,"v":0.000088},{"s":"L:B*64.2","f":225.4,"v":0.000055},{"s":"L:B*64.2","f":228,"v":0.000042},{"s":"L:B*64.2","f":230.6,"v":0.000052},{"s":"L:B*64.2","f":232.7,"v":0.000088},{"s":"L:B*64.2","f":234.8,"v":0.000237},{"s":"L:B*64.2","f":237,"v":0.00052},{"s":"L:B*64.2","f":238.5,"v":0.00069},{"s":"L:B*64.2","f":241,"v":0.00031},{"s":"L:B*64.2","f":244,"v":0.000207},{"s":"L:B*64.2","f":247,"v":0.00025},{"s":"L:B*64.2","f":250.4,"v":0.0004},{"s":"L:B*64.2","f":251.9,"v":0.00056},{"s":"L:B*64.2","f":254,"v":0.000237},{"s":"L:B*64.2","f":256.7,"v":0.000135},{"s":"L:B*64.2","f":258.75,"v":0.000237},{"s":"L:B*64.2","f":260.8,"v":0.00069},{"s":"L:B*64.2","f":263,"v":0.00084},{"s":"L:B*64.2","f":265,"v":0.00078},{"s":"L:B*64.2","f":268,"v":0.00075},{"s":"L:B*64.2","f":270.8,"v":0.00073},{"s":"L:B*64.2","f":274,"v":0.00078},{"s":"L:B*64.2","f":276,"v":0.00133},{"s":"L:B*64.2","f":278,"v":0.00226},{"s":"L:B*64.2","f":280,"v":0.0029},{"s":"L:B*64.2","f":282.3,"v":0.0018},{"s":"L:B*64.2","f":284.4,"v":0.00052},{"s":"L:B*64.2","f":287,"v":0.00021},{"s":"L:B*64.2","f":288.3,"v":0.00046},{"s":"L:B*64.2","f":289.6,"v":0.00133},{"s":"L:B*64.2","f":291.7,"v":0.0006},{"s":"L:B*64.2","f":294.8,"v":0.00046},{"s":"L:B*64.2","f":298,"v":0.00035},{"s":"L:B*64.2","f":301,"v":0.00033},{"s":"L:B*64.2","f":304,"v":0.00035},{"s":"L:B*64.2","f":307,"v":0.0004},{"s":"L:B*64.2","f":310.4,"v":0.000685},{"s":"L:B*64.2","f":313.5,"v":0.00133},{"s":"L:B*64.2","f":315.6,"v":0.0017},{"s":"L:B*64.2","f":317.7,"v":0.00089},{"s":"L:B*64.2","f":320.8,"v":0.00046},{"s":"L:B*64.2","f":324,"v":0.00031},{"s":"L:B*64.2","f":327,"v":0.00022},{"s":"L:B*64.2","f":330,"v":0.000194},{"s":"L:B*64.2","f":333,"v":0.000207},{"s":"L:B*64.2","f":336.5,"v":0.000237},{"s":"L:B*64.2","f":339,"v":0.00038},{"s":"L:B*64.2","f":341.25,"v":0.00049},{"s":"L:B*64.2","f":343.75,"v":0.00029},{"s":"L:B*64.2","f":347,"v":0.000159},{"s":"L:B*64.2","f":350,"v":0.0001},{"s":"L:B*64.2","f":353,"v":0.000067},{"s":"L:B*64.2","f":355.2,"v":0.000042},{"s":"L:B*64.2","f":357.3,"v":0.000035},{"s":"L:B*64.2","f":360.4,"v":0.0000324},{"s":"L:B*64.2","f":366.7,"v":0.000031},{"s":"L:B*64.2","f":373,"v":0.0000285},{"s":"L:B*64.2","f":379,"v":0.0000265},{"s":"L:B*64.2","f":385.4,"v":0.0000255},{"s":"L:B*64.2","f":391.7,"v":0.0000248},{"s":"L:B*64.2","f":397,"v":0.0000265},{"s":"L:B*64.2","f":400,"v":0.0000324},
      {"s":"N:.B","f":0,"v":0.0015},{"s":"N:.B","f":0.4,"v":0.006},{"s":"N:.B","f":0.8,"v":0.0098},{"s":"N:.B","f":1.5,"v":0.004},{"s":"N:.B","f":2.8,"v":0.002},{"s":"N:.B","f":4.2,"v":0.0026},{"s":"N:.B","f":5,"v":0.008},{"s":"N:.B","f":5.6,"v":0.03},{"s":"N:.B","f":6,"v":0.043},{"s":"N:.B","f":6.6,"v":0.015},{"s":"N:.B","f":7.7,"v":0.0026},{"s":"N:.B","f":9.8,"v":0.0018},{"s":"N:.B","f":12.9,"v":0.002},{"s":"N:.B","f":14.5,"v":0.003},{"s":"N:.B","f":15.5,"v":0.007},{"s":"N:.B","f":16.5,"v":0.011},{"s":"N:.B","f":17.5,"v":0.005},{"s":"N:.B","f":18,"v":0.0026},{"s":"N:.B","f":20.2,"v":0.00109},{"s":"N:.B","f":22.3,"v":0.00084},{"s":"N:.B","f":25.4,"v":0.00056},{"s":"N:.B","f":27.5,"v":0.00046},{"s":"N:.B","f":29.2,"v":0.0006},{"s":"N:.B","f":30.6,"v":0.00046},{"s":"N:.B","f":32.7,"v":0.0004},{"s":"N:.B","f":35.8,"v":0.00043},{"s":"N:.B","f":38,"v":0.000207},{"s":"N:.B","f":40,"v":0.00035},{"s":"N:.B","f":42,"v":0.0006},{"s":"N:.B","f":43.75,"v":0.00052},{"s":"N:.B","f":45.2,"v":0.0004},{"s":"N:.B","f":47.3,"v":0.0006},{"s":"N:.B","f":50.4,"v":0.00089},{"s":"N:.B","f":53.5,"v":0.00155},{"s":"N:.B","f":56.7,"v":0.0026},{"s":"N:.B","f":58.8,"v":0.00198},{"s":"N:.B","f":61.9,"v":0.00173},{"s":"N:.B","f":65,"v":0.00152},{"s":"N:.B","f":68,"v":0.00117},{"s":"N:.B","f":71,"v":0.00142},{"s":"N:.B","f":75.4,"v":0.00162},{"s":"N:.B","f":79.6,"v":0.00226},{"s":"N:.B","f":84,"v":0.0032},{"s":"N:.B","f":88,"v":0.00198},{"s":"N:.B","f":92,"v":0.00125},{"s":"N:.B","f":96,"v":0.00102},{"s":"N:.B","f":100.4,"v":0.00102},{"s":"N:.B","f":104.6,"v":0.00133},{"s":"N:.B","f":109.8,"v":0.00198},{"s":"N:.B","f":114.6,"v":0.0026},{"s":"N:.B","f":118,"v":0.00173},{"s":"N:.B","f":123,"v":0.00109},{"s":"N:.B","f":127.5,"v":0.00088},{"s":"N:.B","f":131.7,"v":0.00078},{"s":"N:.B","f":135.8,"v":0.00084},{"s":"N:.B","f":140,"v":0.00102},{"s":"N:.B","f":145,"v":0.00133},{"s":"N:.B","f":148,"v":0.00102},{"s":"N:.B","f":152.5,"v":0.00069},{"s":"N:.B","f":156.7,"v":0.00056},{"s":"N:.B","f":161,"v":0.00043},{"s":"N:.B","f":165,"v":0.00035},{"s":"N:.B","f":169,"v":0.00029},{"s":"N:.B","f":173,"v":0.00022},{"s":"N:.B","f":176.5,"v":0.000139},{"s":"N:.B","f":179.6,"v":0.000077},{"s":"N:.B","f":181.7,"v":0.000059},{"s":"N:.B","f":184.8,"v":0.000067},{"s":"N:.B","f":188,"v":0.000082},{"s":"N:.B","f":192,"v":0.000088},{"s":"N:.B","f":196,"v":0.000082},{"s":"N:.B","f":200.4,"v":0.000082},{"s":"N:.B","f":204.6,"v":0.000082},{"s":"N:.B","f":208.75,"v":0.000088},{"s":"N:.B","f":213,"v":0.000094},{"s":"N:.B","f":217,"v":0.000082},{"s":"N:.B","f":220,"v":0.000067},{"s":"N:.B","f":223,"v":0.000055},{"s":"N:.B","f":226.5,"v":0.000052},{"s":"N:.B","f":229.6,"v":0.000055},{"s":"N:.B","f":232.7,"v":0.000067},{"s":"N:.B","f":235.8,"v":0.000088},{"s":"N:.B","f":240,"v":0.000114},{"s":"N:.B","f":244,"v":0.00013},{"s":"N:.B","f":248,"v":0.000139},{"s":"N:.B","f":251,"v":0.000159},{"s":"N:.B","f":254,"v":0.000194},{"s":"N:.B","f":258.75,"v":0.000253},{"s":"N:.B","f":262,"v":0.00038},{"s":"N:.B","f":265,"v":0.00049},{"s":"N:.B","f":268,"v":0.00052},{"s":"N:.B","f":270.8,"v":0.00052},{"s":"N:.B","f":274,"v":0.00043},{"s":"N:.B","f":277,"v":0.00038},{"s":"N:.B","f":280,"v":0.00031},{"s":"N:.B","f":282.3,"v":0.00027},{"s":"N:.B","f":285,"v":0.000159},{"s":"N:.B","f":286.5,"v":0.00025},{"s":"N:.B","f":288.5,"v":0.00031},{"s":"N:.B","f":291.7,"v":0.00035},{"s":"N:.B","f":294.8,"v":0.00038},{"s":"N:.B","f":298,"v":0.00033},{"s":"N:.B","f":301,"v":0.00027},{"s":"N:.B","f":304,"v":0.00021},{"s":"N:.B","f":308,"v":0.000182},{"s":"N:.B","f":312.5,"v":0.000159},{"s":"N:.B","f":316.7,"v":0.000149},{"s":"N:.B","f":321,"v":0.00013},{"s":"N:.B","f":325,"v":0.000114},{"s":"N:.B","f":329,"v":0.0001},{"s":"N:.B","f":333,"v":0.000082},{"s":"N:.B","f":337.5,"v":0.000067},{"s":"N:.B","f":341.7,"v":0.000052},{"s":"N:.B","f":345.8,"v":0.000042},{"s":"N:.B","f":350,"v":0.000036},{"s":"N:.B","f":354,"v":0.000033},{"s":"N:.B","f":358,"v":0.000033},{"s":"N:.B","f":366.7,"v":0.0000335},{"s":"N:.B","f":375,"v":0.0000346},{"s":"N:.B","f":383,"v":0.000036},{"s":"N:.B","f":391.7,"v":0.000038},{"s":"N:.B","f":400,"v":0.000038}
    ]
  },
  "vconcat": [
    {
      "width": 640,
      "height": 234,
      "data": {"name": "A"},
      "layer": [
        {
          "transform": [{"filter": "datum.s == 'L:excit*64.2'"}],
          "mark": {"type": "line", "clip": true},
          "encoding": {
            "x": {"field": "f", "type": "quantitative", "scale": {"domain": [0, 400], "nice": false, "zero": false}, "axis": {"orient": "bottom", "values": [0, 50, 100, 150, 200, 250, 300, 350, 400], "tickSize": -6, "labelPadding": 11, "title": "Frequency (Hz)", "titlePadding": 8}},
            "y": {"field": "v", "type": "quantitative", "scale": {"type": "log", "domain": [0.0000506, 0.1], "nice": false}, "axis": {"orient": "left", "values": [0.00006,0.00007,0.00008,0.00009,0.0001,0.0002,0.0003,0.0004,0.0005,0.0006,0.0007,0.0008,0.0009,0.001,0.002,0.003,0.004,0.005,0.006,0.007,0.008,0.009,0.01,0.02,0.03,0.04,0.05,0.06,0.07,0.08,0.09,0.1], "tickSize": {"condition": {"test": "abs(log(datum.value)/LN10 - round(log(datum.value)/LN10)) < 0.001", "value": -6}, "value": -3}, "labelExpr": "abs(log(datum.value)/LN10 - round(log(datum.value)/LN10)) < 0.001 ? '10' : ''", "labelPadding": 29, "labelOffset": 2, "title": "A: velocity (m/s)", "titlePadding": 6}},
            "color": {"field": "s", "type": "nominal", "scale": {"domain": ["L:excit*64.2", "N:excit", "L:.A*64.2", "N:.A"], "range": ["#000000", "#00ff00", "#0000ff", "#ff0000"]}, "legend": {"legendX": 467, "legendY": 3, "symbolSize": 1849}},
            "strokeWidth": {"field": "s", "type": "nominal", "scale": {"type": "ordinal", "domain": ["L:excit*64.2", "N:excit", "L:.A*64.2", "N:.A"], "range": [1.1, 1.1, 2.3, 2.3]}, "legend": {"legendX": 467, "legendY": 3, "symbolSize": 1849}}
          }
        },
        {
          "transform": [{"filter": "datum.s == 'N:excit'"}],
          "mark": {"type": "line", "clip": true},
          "encoding": {
            "x": {"field": "f", "type": "quantitative", "scale": {"domain": [0, 400], "nice": false, "zero": false}, "axis": null},
            "y": {"field": "v", "type": "quantitative", "scale": {"type": "log", "domain": [0.0000506, 0.1], "nice": false}, "axis": null},
            "color": {"field": "s", "type": "nominal", "scale": {"domain": ["L:excit*64.2", "N:excit", "L:.A*64.2", "N:.A"], "range": ["#000000", "#00ff00", "#0000ff", "#ff0000"]}, "legend": {"legendX": 467, "legendY": 3, "symbolSize": 1849}},
            "strokeWidth": {"field": "s", "type": "nominal", "scale": {"type": "ordinal", "domain": ["L:excit*64.2", "N:excit", "L:.A*64.2", "N:.A"], "range": [1.1, 1.1, 2.3, 2.3]}, "legend": {"legendX": 467, "legendY": 3, "symbolSize": 1849}}
          }
        },
        {
          "transform": [{"filter": "datum.s == 'L:.A*64.2'"}],
          "mark": {"type": "line", "clip": true},
          "encoding": {
            "x": {"field": "f", "type": "quantitative", "scale": {"domain": [0, 400], "nice": false, "zero": false}, "axis": null},
            "y": {"field": "v", "type": "quantitative", "scale": {"type": "log", "domain": [0.0000506, 0.1], "nice": false}, "axis": null},
            "color": {"field": "s", "type": "nominal", "scale": {"domain": ["L:excit*64.2", "N:excit", "L:.A*64.2", "N:.A"], "range": ["#000000", "#00ff00", "#0000ff", "#ff0000"]}, "legend": {"legendX": 467, "legendY": 3, "symbolSize": 1849}},
            "strokeWidth": {"field": "s", "type": "nominal", "scale": {"type": "ordinal", "domain": ["L:excit*64.2", "N:excit", "L:.A*64.2", "N:.A"], "range": [1.1, 1.1, 2.3, 2.3]}, "legend": {"legendX": 467, "legendY": 3, "symbolSize": 1849}}
          }
        },
        {
          "transform": [{"filter": "datum.s == 'N:.A'"}],
          "mark": {"type": "line", "clip": true},
          "encoding": {
            "x": {"field": "f", "type": "quantitative", "scale": {"domain": [0, 400], "nice": false, "zero": false}, "axis": null},
            "y": {"field": "v", "type": "quantitative", "scale": {"type": "log", "domain": [0.0000506, 0.1], "nice": false}, "axis": null},
            "color": {"field": "s", "type": "nominal", "scale": {"domain": ["L:excit*64.2", "N:excit", "L:.A*64.2", "N:.A"], "range": ["#000000", "#00ff00", "#0000ff", "#ff0000"]}, "legend": {"legendX": 467, "legendY": 3, "symbolSize": 1849}},
            "strokeWidth": {"field": "s", "type": "nominal", "scale": {"type": "ordinal", "domain": ["L:excit*64.2", "N:excit", "L:.A*64.2", "N:.A"], "range": [1.1, 1.1, 2.3, 2.3]}, "legend": {"legendX": 467, "legendY": 3, "symbolSize": 1849}}
          }
        },
        {
          "transform": [{"filter": "datum.f == 0"}],
          "mark": {"type": "point", "opacity": 0},
          "encoding": {
            "x": {"field": "f", "type": "quantitative", "scale": {"domain": [0, 400], "nice": false, "zero": false}, "axis": {"orient": "top", "values": [0, 50, 100, 150, 200, 250, 300, 350, 400], "tickSize": -6, "labels": false, "title": null}},
            "y": {"field": "v", "type": "quantitative", "scale": {"type": "log", "domain": [0.0000506, 0.1], "nice": false}, "axis": {"orient": "right", "values": [0.00006,0.00007,0.00008,0.00009,0.0001,0.0002,0.0003,0.0004,0.0005,0.0006,0.0007,0.0008,0.0009,0.001,0.002,0.003,0.004,0.005,0.006,0.007,0.008,0.009,0.01,0.02,0.03,0.04,0.05,0.06,0.07,0.08,0.09,0.1], "tickSize": {"condition": {"test": "abs(log(datum.value)/LN10 - round(log(datum.value)/LN10)) < 0.001", "value": -6}, "value": -3}, "labels": false, "title": null}}
          }
        },
        {
          "transform": [{"filter": "datum.f == 0"}],
          "mark": {"type": "point", "opacity": 0},
          "encoding": {
            "x": {"field": "f", "type": "quantitative", "scale": {"domain": [0, 400], "nice": false, "zero": false}, "axis": null},
            "y": {"field": "v", "type": "quantitative", "scale": {"type": "log", "domain": [0.0000506, 0.1], "nice": false}, "axis": {"orient": "left", "values": [0.0001, 0.001, 0.01, 0.1], "ticks": false, "labelExpr": "'\u2212' + format(-round(log(datum.value)/LN10), 'd')", "labelFontSize": 12, "labelPadding": 9, "labelOffset": -4.5, "title": null}}
          }
        }
      ],
      "resolve": {"axis": {"x": "independent", "y": "independent"}}
    },
    {
      "width": 640,
      "height": 212,
      "data": {"name": "B"},
      "layer": [
        {
          "transform": [{"filter": "datum.s == 'L:B*64.2'"}],
          "mark": {"type": "line", "clip": true, "strokeWidth": 2.3},
          "encoding": {
            "x": {"field": "f", "type": "quantitative", "scale": {"domain": [0, 400], "nice": false, "zero": false}, "axis": {"orient": "bottom", "values": [0, 50, 100, 150, 200, 250, 300, 350, 400], "tickSize": -6, "labelPadding": 11, "title": "Frequency (Hz)", "titlePadding": 8}},
            "y": {"field": "v", "type": "quantitative", "scale": {"type": "log", "domain": [0.0000209, 0.0955], "nice": false}, "axis": {"orient": "left", "values": [0.00003,0.00004,0.00005,0.00006,0.00007,0.00008,0.00009,0.0001,0.0002,0.0003,0.0004,0.0005,0.0006,0.0007,0.0008,0.0009,0.001,0.002,0.003,0.004,0.005,0.006,0.007,0.008,0.009,0.01,0.02,0.03,0.04,0.05,0.06,0.07,0.08,0.09], "tickSize": {"condition": {"test": "abs(log(datum.value)/LN10 - round(log(datum.value)/LN10)) < 0.001", "value": -6}, "value": -3}, "labelExpr": "abs(log(datum.value)/LN10 - round(log(datum.value)/LN10)) < 0.001 ? '10' : ''", "labelPadding": 29, "labelOffset": 2, "title": "B: velocity (m/s)", "titlePadding": 6}},
            "color": {"field": "s", "type": "nominal", "scale": {"domain": ["L:B*64.2", "N:.B"], "range": ["#0000ff", "#ff0000"]}, "legend": {"legendX": 497, "legendY": 20, "symbolSize": 1764, "symbolStrokeWidth": 2}}
          }
        },
        {
          "transform": [{"filter": "datum.s == 'N:.B'"}],
          "mark": {"type": "line", "clip": true, "strokeWidth": 2.3},
          "encoding": {
            "x": {"field": "f", "type": "quantitative", "scale": {"domain": [0, 400], "nice": false, "zero": false}, "axis": null},
            "y": {"field": "v", "type": "quantitative", "scale": {"type": "log", "domain": [0.0000209, 0.0955], "nice": false}, "axis": null},
            "color": {"field": "s", "type": "nominal", "scale": {"domain": ["L:B*64.2", "N:.B"], "range": ["#0000ff", "#ff0000"]}, "legend": {"legendX": 497, "legendY": 20, "symbolSize": 1764, "symbolStrokeWidth": 2}}
          }
        },
        {
          "transform": [{"filter": "datum.f == 0"}],
          "mark": {"type": "point", "opacity": 0},
          "encoding": {
            "x": {"field": "f", "type": "quantitative", "scale": {"domain": [0, 400], "nice": false, "zero": false}, "axis": {"orient": "top", "values": [0, 50, 100, 150, 200, 250, 300, 350, 400], "tickSize": -6, "labels": false, "title": null}},
            "y": {"field": "v", "type": "quantitative", "scale": {"type": "log", "domain": [0.0000209, 0.0955], "nice": false}, "axis": {"orient": "right", "values": [0.00003,0.00004,0.00005,0.00006,0.00007,0.00008,0.00009,0.0001,0.0002,0.0003,0.0004,0.0005,0.0006,0.0007,0.0008,0.0009,0.001,0.002,0.003,0.004,0.005,0.006,0.007,0.008,0.009,0.01,0.02,0.03,0.04,0.05,0.06,0.07,0.08,0.09], "tickSize": {"condition": {"test": "abs(log(datum.value)/LN10 - round(log(datum.value)/LN10)) < 0.001", "value": -6}, "value": -3}, "labels": false, "title": null}}
          }
        },
        {
          "transform": [{"filter": "datum.f == 0"}],
          "mark": {"type": "point", "opacity": 0},
          "encoding": {
            "x": {"field": "f", "type": "quantitative", "scale": {"domain": [0, 400], "nice": false, "zero": false}, "axis": null},
            "y": {"field": "v", "type": "quantitative", "scale": {"type": "log", "domain": [0.0000209, 0.0955], "nice": false}, "axis": {"orient": "left", "values": [0.0001, 0.001, 0.01], "ticks": false, "labelExpr": "'\u2212' + format(-round(log(datum.value)/LN10), 'd')", "labelFontSize": 12, "labelPadding": 9, "labelOffset": -4.5, "title": null}}
          }
        }
      ],
      "resolve": {"axis": {"x": "independent", "y": "independent"}}
    }
  ],
  "spacing": 6,
  "resolve": {"scale": {"color": "independent", "strokeWidth": "independent", "x": "independent", "y": "independent"}, "legend": {"color": "independent", "strokeWidth": "independent"}}
}
